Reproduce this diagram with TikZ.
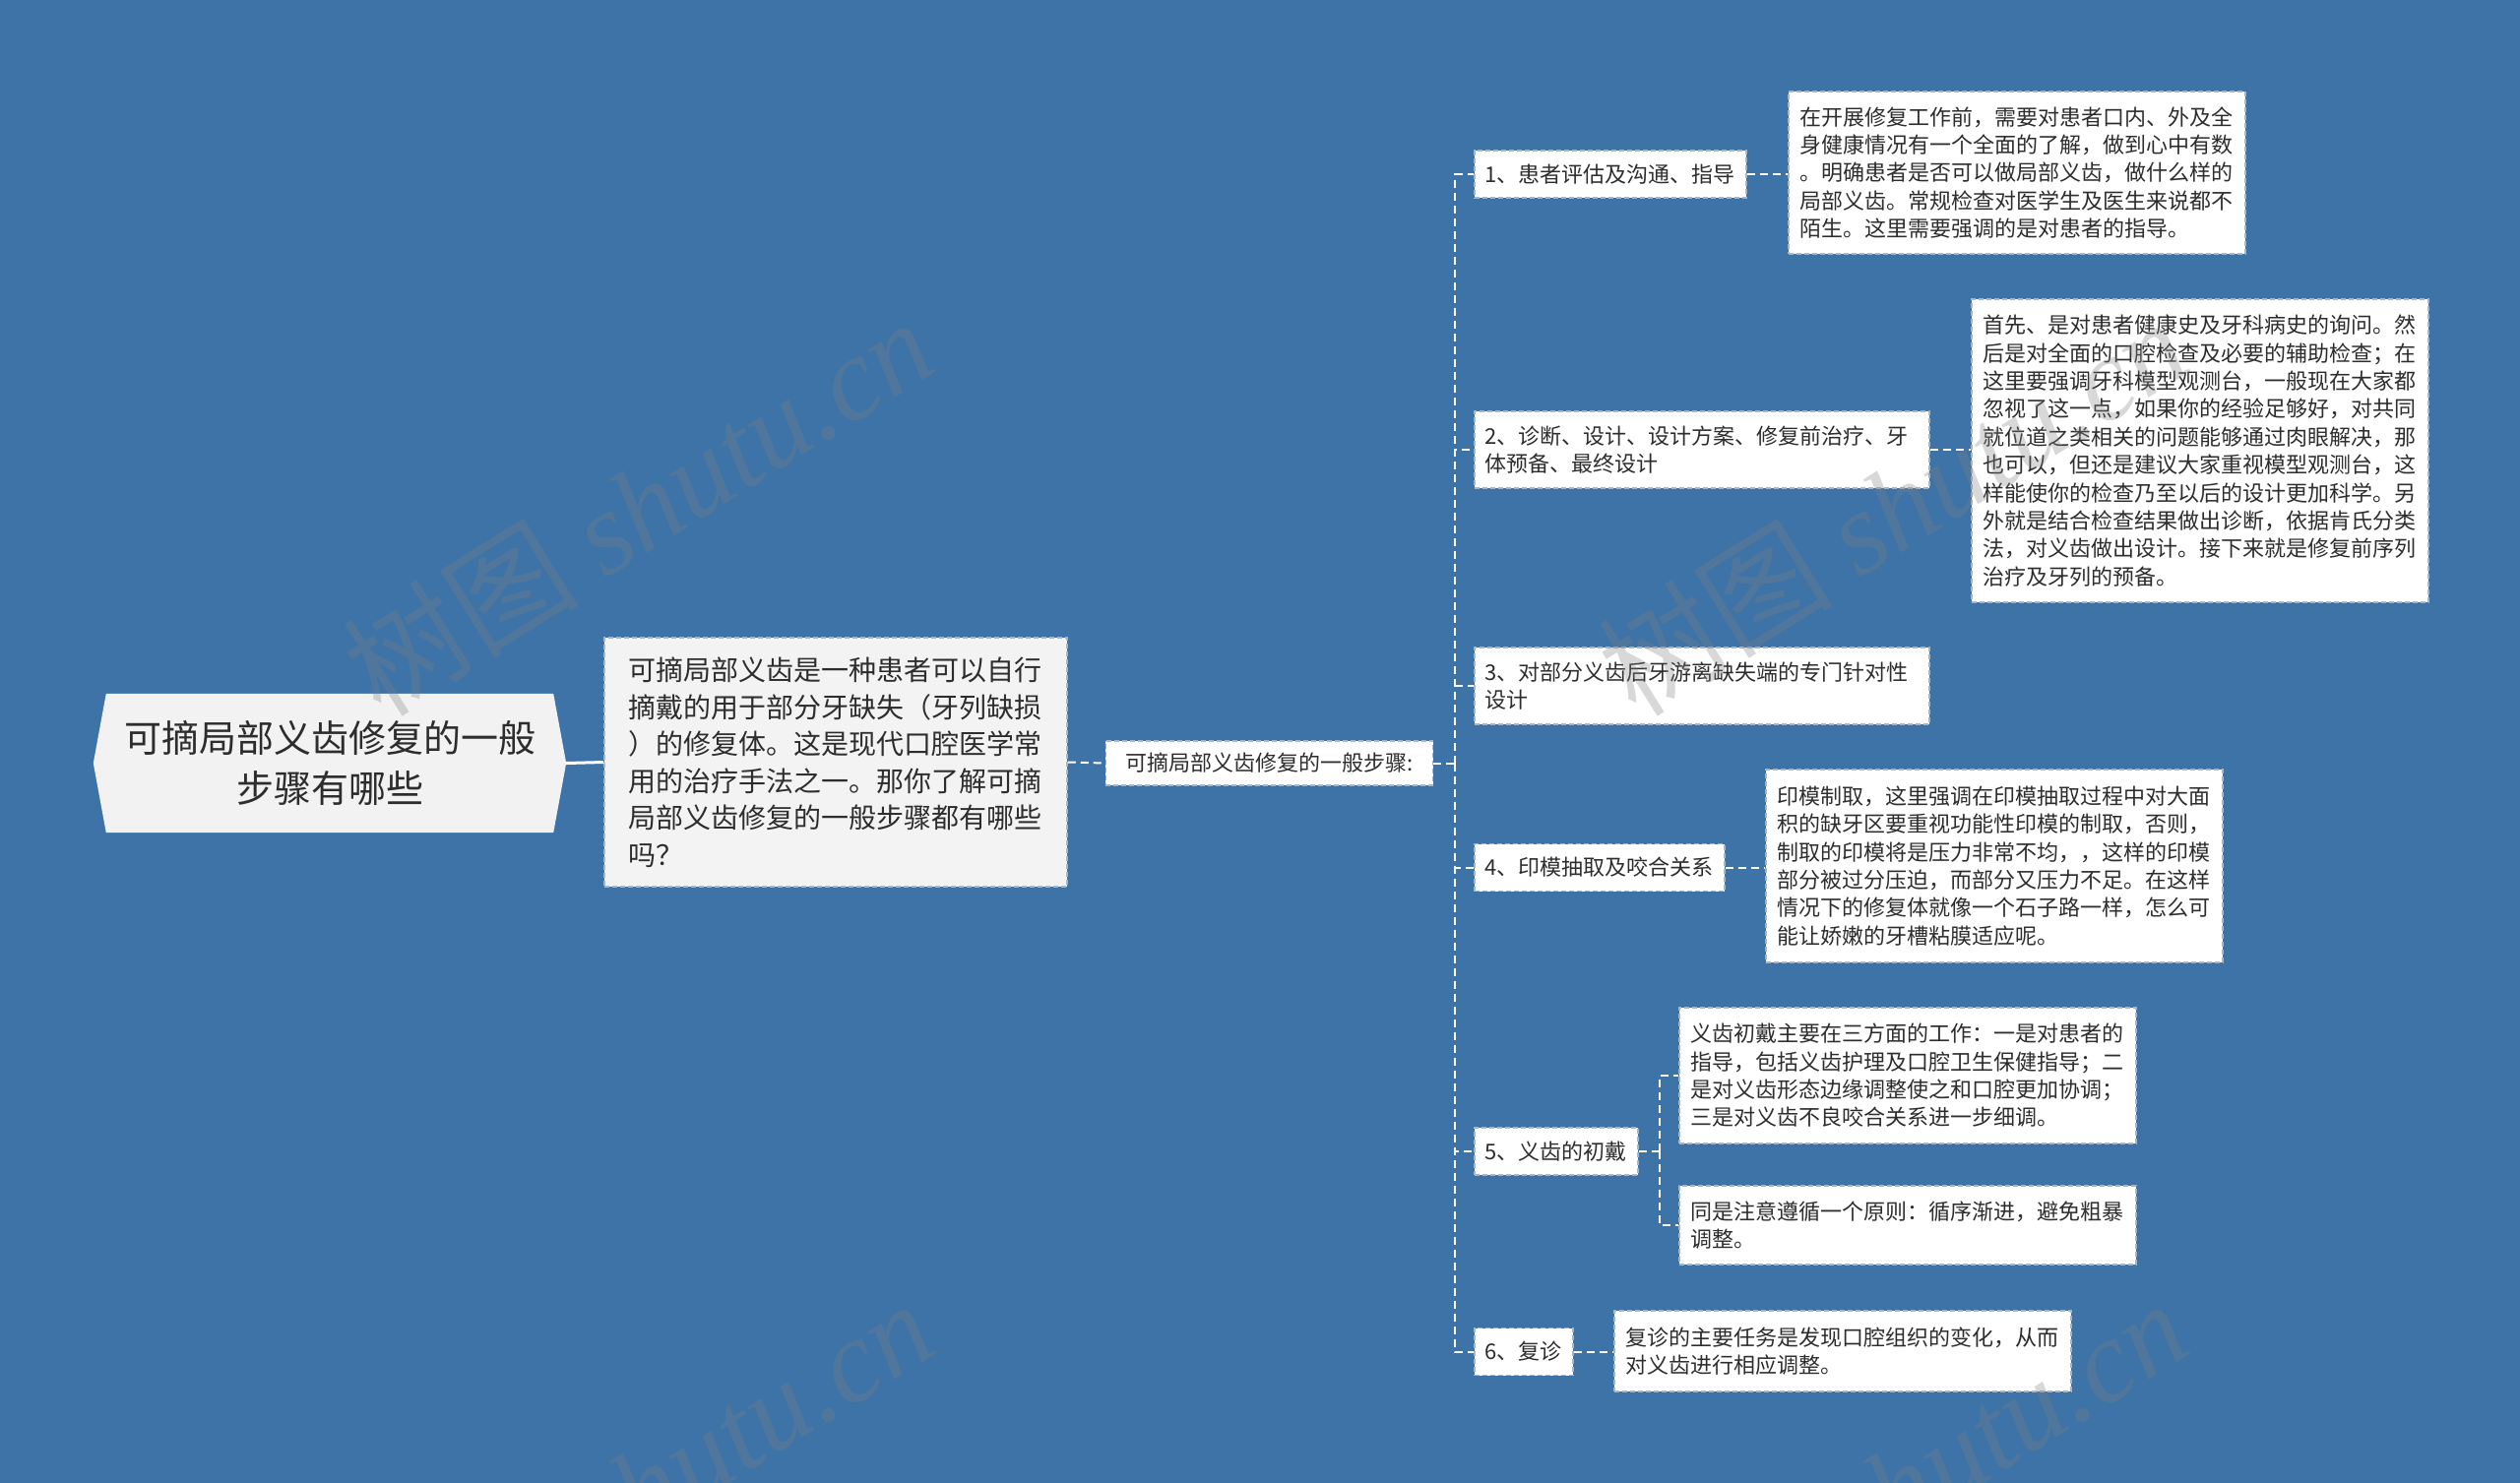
\documentclass[tikz,border=0pt]{standalone}
\usepackage{fontspec}
\setmainfont{Noto Sans CJK SC}
\newfontfamily\wmlatin{Liberation Serif}
\usetikzlibrary{backgrounds}
\definecolor{bgblue}{RGB}{61,115,167}
\definecolor{rootfill}{RGB}{242,242,242}
\definecolor{descfill}{RGB}{243,243,243}
\definecolor{boxline}{RGB}{165,182,200}
\definecolor{txt}{RGB}{45,45,45}
\begin{document}
\begin{tikzpicture}[x=1pt,y=-1pt,
  conn/.style={draw=white, line width=2pt, dash pattern=on 8pt off 5pt},
  boxstyle/.style={fill=white, draw=boxline, line width=1.5pt, dash pattern=on 5pt off 3pt, text=txt},
  smallfont/.style={font=\fontsize{22pt}{28.4pt}\selectfont},
  branch/.style={boxstyle, smallfont, anchor=west, inner xsep=11pt, inner ysep=0pt, minimum height=48pt, align=left},
  leaf/.style={boxstyle, smallfont, anchor=west, inner xsep=12pt, inner ysep=0pt, text width=440pt, align=left},
  wm/.style={text=black!50, text opacity=0.3, font=\fontsize{120pt}{120pt}\selectfont, rotate=32, inner sep=0pt}
]
\useasboundingbox (0,0) rectangle (2560,1507);

% root
\node[font=\fontsize{38pt}{51pt}\selectfont, text=txt, align=center, minimum width=454pt, minimum height=141pt, inner sep=0pt] (root) at (335,775.5) {可摘局部义齿修复的一般\\步骤有哪些};
\begin{pgfonlayer}{background}
\fill[bgblue] (0,0) rectangle (2560,1507);
\fill[rootfill] (root.north west) -- (root.north east) -- ([xshift=13pt]root.east) -- (root.south east) -- (root.south west) -- ([xshift=-13pt]root.west) -- cycle;
\end{pgfonlayer}

% description
\node[fill=descfill, draw=boxline, line width=1.5pt, dash pattern=on 5pt off 3pt, text=txt, font=\fontsize{28pt}{37.5pt}\selectfont, text width=422pt, align=left, minimum width=470pt, minimum height=253pt, inner xsep=24pt, inner ysep=0pt] (desc) at (849,774.5) {可摘局部义齿是一种患者可以自行\\摘戴的用于部分牙缺失（牙列缺损\\）的修复体。这是现代口腔医学常\\用的治疗手法之一。那你了解可摘\\局部义齿修复的一般步骤都有哪些\\吗？};

% middle
\node[boxstyle, smallfont, inner xsep=20pt, inner ysep=0pt, minimum height=45pt] (mid) at (1289.5,775.5) {可摘局部义齿修复的一般步骤:};

\coordinate (sp) at (1478,775.5);

% branches
\node[branch] (b1) at (1497,177) {1、患者评估及沟通、指导};
\node[branch, text width=440pt, minimum height=78pt] (b2) at (1497,457) {2、诊断、设计、设计方案、修复前治疗、牙\\体预备、最终设计};
\node[branch, text width=440pt, minimum height=78pt] (b3) at (1497,697) {3、对部分义齿后牙游离缺失端的专门针对性\\设计};
\node[branch] (b4) at (1497,881.5) {4、印模抽取及咬合关系};
\node[branch] (b5) at (1497,1170) {5、义齿的初戴};
\node[branch] (b6) at (1497,1373.5) {6、复诊};

% leaves
\node[leaf, minimum height=165pt] (l1) at (1816,175.5) {在开展修复工作前，需要对患者口内、外及全\\身健康情况有一个全面的了解，做到心中有数\\。明确患者是否可以做局部义齿，做什么样的\\局部义齿。常规检查对医学生及医生来说都不\\陌生。这里需要强调的是对患者的指导。};
\node[leaf, minimum height=308pt] (l2) at (2002,458) {首先、是对患者健康史及牙科病史的询问。然\\后是对全面的口腔检查及必要的辅助检查；在\\这里要强调牙科模型观测台，一般现在大家都\\忽视了这一点，如果你的经验足够好，对共同\\就位道之类相关的问题能够通过肉眼解决，那\\也可以，但还是建议大家重视模型观测台，这\\样能使你的检查乃至以后的设计更加科学。另\\外就是结合检查结果做出诊断，依据肯氏分类\\法，对义齿做出设计。接下来就是修复前序列\\治疗及牙列的预备。};
\node[leaf, minimum height=196pt] (l4) at (1793,880) {印模制取，这里强调在印模抽取过程中对大面\\积的缺牙区要重视功能性印模的制取，否则，\\制取的印模将是压力非常不均，，这样的印模\\部分被过分压迫，而部分又压力不足。在这样\\情况下的修复体就像一个石子路一样，怎么可\\能让娇嫩的牙槽粘膜适应呢。};
\node[leaf, minimum height=138pt] (l5a) at (1705,1093) {义齿初戴主要在三方面的工作：一是对患者的\\指导，包括义齿护理及口腔卫生保健指导；二\\是对义齿形态边缘调整使之和口腔更加协调；\\三是对义齿不良咬合关系进一步细调。};
\node[leaf, minimum height=80pt] (l5b) at (1705,1245) {同是注意遵循一个原则：循序渐进，避免粗暴\\调整。};
\node[leaf, minimum height=82pt] (l6) at (1639,1373) {复诊的主要任务是发现口腔组织的变化，从而\\对义齿进行相应调整。};

% connectors
\draw[white, line width=3pt] ([xshift=13pt]root.east) -- (desc.west);
\draw[conn] (desc.east) -- (mid.west);
\draw[conn] (mid.east) -- (sp);
\foreach \b in {b1,b2,b3,b4,b5,b6} {
  \draw[conn] (sp) |- (\b.west);
}
\draw[conn] (b1.east) -- (b1.east -| l1.west);
\draw[conn] (b2.east) -- (b2.east -| l2.west);
\draw[conn] (b4.east) -- (b4.east -| l4.west);
\draw[conn] (b5.east) -- ++(21,0) coordinate (s5);
\draw[conn] (s5) |- (l5a.west);
\draw[conn] (s5) |- (l5b.west);
\draw[conn] (b6.east) -- (b6.east -| l6.west);

% watermarks
\node[wm] (w1) at (648,514) {树图 {\wmlatin\itshape shutu.cn}};
\node[wm] (w2) at (1922,514) {树图 {\wmlatin\itshape shutu.cn}};
\node[wm] (w3) at (648,1512) {树图 {\wmlatin\itshape shutu.cn}};
\node[wm] (w4) at (1922,1512) {树图 {\wmlatin\itshape shutu.cn}};
\end{tikzpicture}
\end{document}
